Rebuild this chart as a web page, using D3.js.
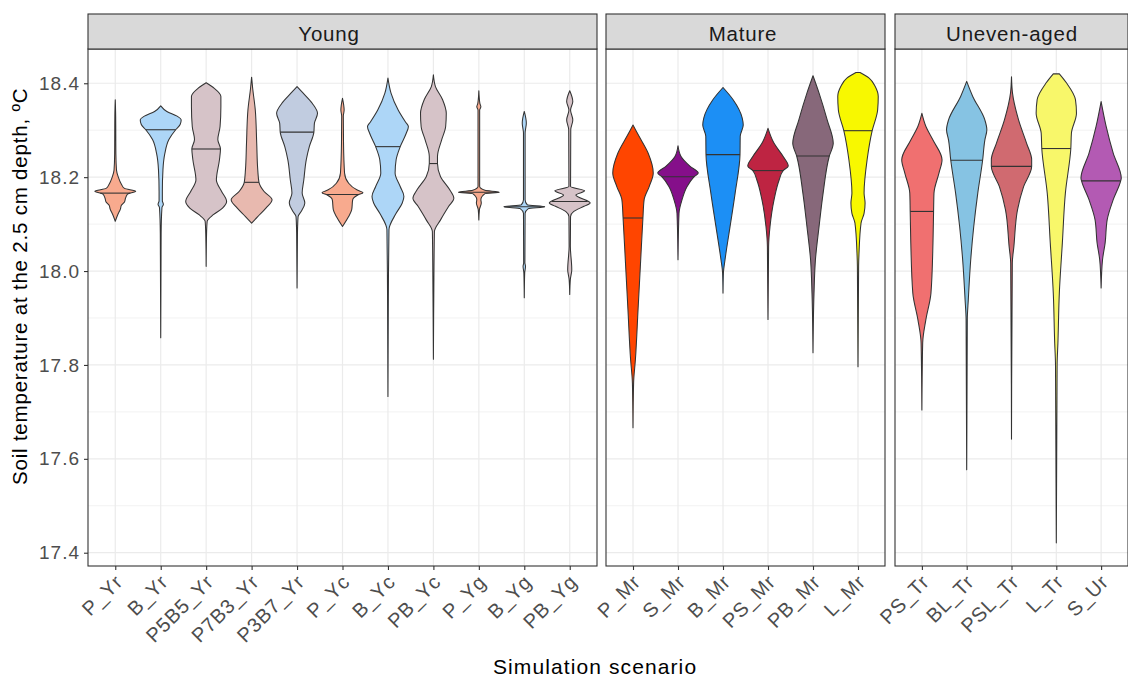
<!DOCTYPE html>
<meta charset="utf-8">
<script src="https://d3js.org/d3.v7.min.js"></script>
<style>
  body { margin: 0; background: #fff; }
  svg { display: block; }
</style>
<div id="my_dataviz"></div>
<script>

// scenario names per facet
var panelTitles = ["Young", "Mature", "Uneven-aged"];
var youngNames  = ["P_Yr","B_Yr","P5B5_Yr","P7B3_Yr","P3B7_Yr","P_Yc","B_Yc","PB_Yc","P_Yg","B_Yg","PB_Yg"];
var matureNames = ["P_Mr","S_Mr","B_Mr","PS_Mr","PB_Mr","L_Mr"];
var unevenNames = ["PS_Tr","BL_Tr","PSL_Tr","L_Tr","S_Ur"];

// fill colours
var youngColors  = ["#F8AA8E","#ADD6F7","#D6C3C8","#E8B9AF","#C1CCE0","#F8AA8E","#ADD6F7","#D6C3C8","#F8AA8E","#ADD6F7","#D6C3C8"];
var matureColors = ["#FF4500","#850F8A","#1C8FF5","#BE2442","#87687A","#F8F800"];
var unevenColors = ["#F07070","#86C3E3","#D06A70","#F8F76A","#B35AB3"];

// medians (draw_quantiles = 0.5), degC
var youngMedians  = [18.166,18.301,18.260,18.189,18.296,18.163,18.265,18.229,18.168,18.137,18.148];
var matureMedians = [18.113,18.201,18.248,18.214,18.245,18.299];
var unevenMedians = [18.127,18.236,18.223,18.261,18.192];

// density outlines: [temperature, relative half width]
var youngProfiles = [
  [[18.365,0],[18.33,0.02],[18.25,0.03],[18.215,0.06],[18.200,0.15],[18.185,0.30],[18.176,0.45],[18.170,1.0],[18.164,0.6],[18.155,0.5],[18.147,0.45],[18.140,0.30],[18.132,0.25],[18.120,0.12],[18.106,0]],
  [[18.352,0],[18.340,0.3],[18.330,0.8],[18.322,1.0],[18.312,0.95],[18.301,0.73],[18.280,0.40],[18.250,0.20],[18.216,0.11],[18.170,0.08],[18.150,0.08],[18.142,0.13],[18.135,0.06],[18.080,0.02],[17.858,0]],
  [[18.401,0],[18.389,0.40],[18.372,0.72],[18.350,0.72],[18.308,0.68],[18.280,0.57],[18.260,0.70],[18.237,0.65],[18.194,0.50],[18.170,0.75],[18.148,1.0],[18.134,0.80],[18.120,0.35],[18.106,0.05],[18.080,0.02],[18.010,0]],
  [[18.413,0],[18.390,0.05],[18.343,0.18],[18.272,0.25],[18.216,0.30],[18.189,0.36],[18.170,0.60],[18.152,1.0],[18.134,0.70],[18.116,0.30],[18.102,0]],
  [[18.393,0],[18.379,0.30],[18.357,0.75],[18.336,1.0],[18.315,0.85],[18.295,0.82],[18.265,0.60],[18.237,0.45],[18.194,0.33],[18.166,0.25],[18.145,0.38],[18.127,0.20],[18.116,0.05],[18.080,0.02],[17.964,0]],
  [[18.368,0],[18.343,0.08],[18.330,0.04],[18.272,0.05],[18.209,0.10],[18.187,0.30],[18.173,0.70],[18.167,1.0],[18.162,0.75],[18.152,0.50],[18.131,0.45],[18.116,0.30],[18.095,0]],
  [[18.411,0],[18.379,0.15],[18.343,0.50],[18.318,0.85],[18.308,1.0],[18.294,0.90],[18.265,0.60],[18.237,0.40],[18.209,0.35],[18.180,0.60],[18.159,0.78],[18.145,0.70],[18.123,0.40],[18.088,0.05],[17.950,0.02],[17.733,0]],
  [[18.418,0],[18.393,0.10],[18.365,0.45],[18.336,0.63],[18.308,0.60],[18.279,0.40],[18.244,0.20],[18.229,0.20],[18.201,0.35],[18.173,0.80],[18.155,1.0],[18.138,0.75],[18.109,0.35],[18.084,0.05],[17.950,0.02],[17.812,0]],
  [[18.384,0],[18.357,0.05],[18.350,0.10],[18.343,0.04],[18.180,0.04],[18.172,0.30],[18.168,1.0],[18.165,0.30],[18.152,0.10],[18.145,0.12],[18.131,0.03],[18.109,0]],
  [[18.340,0],[18.315,0.10],[18.294,0.04],[18.152,0.04],[18.141,0.15],[18.137,1.0],[18.133,0.20],[18.123,0.04],[18.017,0.03],[18.010,0.06],[17.996,0.02],[17.943,0]],
  [[18.384,0],[18.361,0.15],[18.343,0.04],[18.322,0.15],[18.301,0.05],[18.180,0.04],[18.171,0.73],[18.162,0.30],[18.145,1.0],[18.138,0.70],[18.127,0.20],[18.116,0.04],[18.053,0.03],[18.003,0.10],[17.982,0.03],[17.950,0]]
];
var matureProfiles = [
  [[18.311,0],[18.287,0.30],[18.251,0.75],[18.209,1.0],[18.180,0.80],[18.152,0.55],[18.113,0.49],[18.024,0.38],[17.918,0.25],[17.812,0.12],[17.762,0.03],[17.666,0]],
  [[18.267,0],[18.244,0.15],[18.223,0.60],[18.209,1.0],[18.201,0.80],[18.180,0.45],[18.152,0.20],[18.123,0.05],[18.024,0]],
  [[18.391,0],[18.365,0.50],[18.326,0.95],[18.311,1.0],[18.287,0.85],[18.248,0.84],[18.166,0.60],[18.095,0.35],[18.024,0.10],[17.996,0.02],[17.953,0]],
  [[18.304,0],[18.272,0.30],[18.244,0.75],[18.224,1.0],[18.214,0.75],[18.194,0.55],[18.152,0.30],[18.095,0.10],[18.053,0.03],[17.897,0]],
  [[18.416,0],[18.379,0.30],[18.322,0.70],[18.272,1.0],[18.244,0.80],[18.166,0.50],[18.095,0.30],[18.024,0.12],[17.953,0.05],[17.826,0]],
  [[18.423,0.10],[18.411,0.55],[18.393,0.85],[18.372,1.0],[18.343,0.97],[18.299,0.70],[18.237,0.45],[18.166,0.30],[18.145,0.35],[18.123,0.30],[18.102,0.15],[18.038,0.05],[18.010,0.03],[17.796,0]]
];
var unevenProfiles = [
  [[18.336,0],[18.308,0.20],[18.279,0.55],[18.237,1.0],[18.209,0.85],[18.166,0.60],[18.127,0.58],[18.060,0.55],[17.953,0.45],[17.897,0.20],[17.847,0.04],[17.704,0]],
  [[18.404,0],[18.372,0.30],[18.322,0.90],[18.301,1.0],[18.279,0.90],[18.236,0.79],[18.166,0.55],[18.095,0.35],[18.024,0.20],[17.939,0.08],[17.897,0.03],[17.577,0]],
  [[18.414,0],[18.379,0.05],[18.322,0.35],[18.272,0.75],[18.237,1.0],[18.223,1.0],[18.180,0.60],[18.131,0.30],[18.053,0.12],[18.017,0.04],[17.642,0]],
  [[18.420,0.15],[18.401,0.50],[18.365,0.95],[18.336,1.0],[18.294,0.75],[18.261,0.72],[18.166,0.45],[18.060,0.30],[17.953,0.15],[17.847,0.08],[17.800,0.04],[17.421,0]],
  [[18.361,0],[18.308,0.25],[18.251,0.60],[18.198,1.0],[18.192,0.97],[18.152,0.60],[18.109,0.30],[18.060,0.20],[18.024,0.07],[17.964,0]]
];

var yMajor = [17.4, 17.6, 17.8, 18.0, 18.2, 18.4];
var yMinor = [17.5, 17.7, 17.9, 18.1, 18.3];

// layout
var width = 1128, height = 679;
var plotTop = 49, plotBottom = 566, stripTop = 14;
var panelLeft  = [88, 606, 895];
var panelRight = [597, 885, 1128];
var stripLabelX = [329, 743, 1012];

var svg = d3.select("#my_dataviz")
  .append("svg")
    .attr("width", width)
    .attr("height", height)
    .style("font-family", "'Liberation Sans', Arial, sans-serif");

svg.append("rect").attr("width", width).attr("height", height).attr("fill", "#fff");

var y = d3.scaleLinear()
  .domain([17.3717, 18.473])
  .range([plotBottom, plotTop]);

var panels = [
  {names: youngNames,  colors: youngColors,  medians: youngMedians,  profiles: youngProfiles},
  {names: matureNames, colors: matureColors, medians: matureMedians, profiles: matureProfiles},
  {names: unevenNames, colors: unevenColors, medians: unevenMedians, profiles: unevenProfiles}
];

panels.forEach(function(p, i) {
  var left = panelLeft[i], right = panelRight[i];
  var x = d3.scalePoint()
    .domain(p.names)
    .range([left, right])
    .padding(0.6);
  var hw = 0.45 * x.step();

  var g = svg.append("g");

  // grid
  g.selectAll(".minor").data(yMinor).enter().append("line")
    .attr("x1", left).attr("x2", right)
    .attr("y1", function(d){ return y(d); }).attr("y2", function(d){ return y(d); })
    .attr("stroke", "#F2F2F2").attr("stroke-width", 1);
  g.selectAll(".major").data(yMajor).enter().append("line")
    .attr("x1", left).attr("x2", right)
    .attr("y1", function(d){ return y(d); }).attr("y2", function(d){ return y(d); })
    .attr("stroke", "#EBEBEB").attr("stroke-width", 1.2);
  g.selectAll(".vgrid").data(p.names).enter().append("line")
    .attr("x1", function(d){ return x(d); }).attr("x2", function(d){ return x(d); })
    .attr("y1", plotTop).attr("y2", plotBottom)
    .attr("stroke", "#EBEBEB").attr("stroke-width", 1.2);

  // violins
  p.names.forEach(function(name, j) {
    var cx = x(name);
    var area = d3.area()
      .y(function(d){ return y(d[0]); })
      .x0(function(d){ return cx - d[1] * hw; })
      .x1(function(d){ return cx + d[1] * hw; })
      .curve(d3.curveMonotoneY);
    g.append("path")
      .datum(p.profiles[j])
      .attr("d", area)
      .attr("fill", p.colors[j])
      .attr("stroke", "#333333")
      .attr("stroke-width", 1.05)
      .attr("stroke-linejoin", "round");

    // median line across the violin
    var widthAt = d3.scaleLinear()
      .domain(p.profiles[j].map(function(d){ return d[0]; }))
      .range(p.profiles[j].map(function(d){ return d[1]; }));
    var m = p.medians[j], w = widthAt(m) * hw;
    g.append("line")
      .attr("x1", cx - w).attr("x2", cx + w)
      .attr("y1", y(m)).attr("y2", y(m))
      .attr("stroke", "#333333").attr("stroke-width", 1.1);
  });

  // panel border
  g.append("rect")
    .attr("x", left).attr("y", plotTop)
    .attr("width", right - left).attr("height", plotBottom - plotTop)
    .attr("fill", "none").attr("stroke", "#333333").attr("stroke-width", 1.1);

  // strip
  g.append("rect")
    .attr("x", left).attr("y", stripTop)
    .attr("width", right - left).attr("height", plotTop - stripTop)
    .attr("fill", "#D9D9D9").attr("stroke", "#333333").attr("stroke-width", 1.1);
  g.append("text")
    .attr("x", stripLabelX[i]).attr("y", 40.5)
    .attr("text-anchor", "middle")
    .style("font-size", "20.5px")
    .style("letter-spacing", "0.8px")
    .attr("fill", "#1A1A1A")
    .text(panelTitles[i]);

  // x axis
  var ax = g.append("g")
    .attr("transform", "translate(0," + plotBottom + ")")
    .call(d3.axisBottom(x).tickSize(4).tickSizeOuter(0));
  ax.select(".domain").remove();
  ax.selectAll("line").attr("stroke", "#333333").attr("stroke-width", 1.1);
  ax.selectAll("text")
    .attr("x", 0).attr("y", 0).attr("dy", "0.72em")
    .attr("transform", "translate(-2,7) rotate(-45)")
    .style("text-anchor", "end")
    .style("font-size", "20px")
    .style("letter-spacing", "0.8px")
    .style("font-family", "'Liberation Sans', Arial, sans-serif")
    .attr("fill", "#4D4D4D");

  // y axis on first facet only
  if (i === 0) {
    var ay = g.append("g")
      .attr("transform", "translate(" + left + ",0)")
      .call(d3.axisLeft(y).tickValues(yMajor).tickFormat(d3.format(".1f")).tickSize(4).tickPadding(4).tickSizeOuter(0));
    ay.select(".domain").remove();
    ay.selectAll("line").attr("stroke", "#333333").attr("stroke-width", 1.1);
    ay.selectAll("text")
      .style("font-size", "19px")
      .style("letter-spacing", "1px")
      .style("font-family", "'Liberation Sans', Arial, sans-serif")
      .attr("fill", "#4D4D4D");
  }
});

// axis titles
svg.append("text")
  .attr("x", 493).attr("y", 674)
  .style("font-size", "21px")
  .style("letter-spacing", "1.1px")
  .attr("fill", "#000")
  .text("Simulation scenario");

svg.append("text")
  .attr("transform", "translate(27,485) rotate(-90)")
  .style("font-size", "20.5px")
  .style("letter-spacing", "0.8px")
  .attr("fill", "#000")
  .text("Soil temperature at the 2.5 cm depth, ºC");

</script>
